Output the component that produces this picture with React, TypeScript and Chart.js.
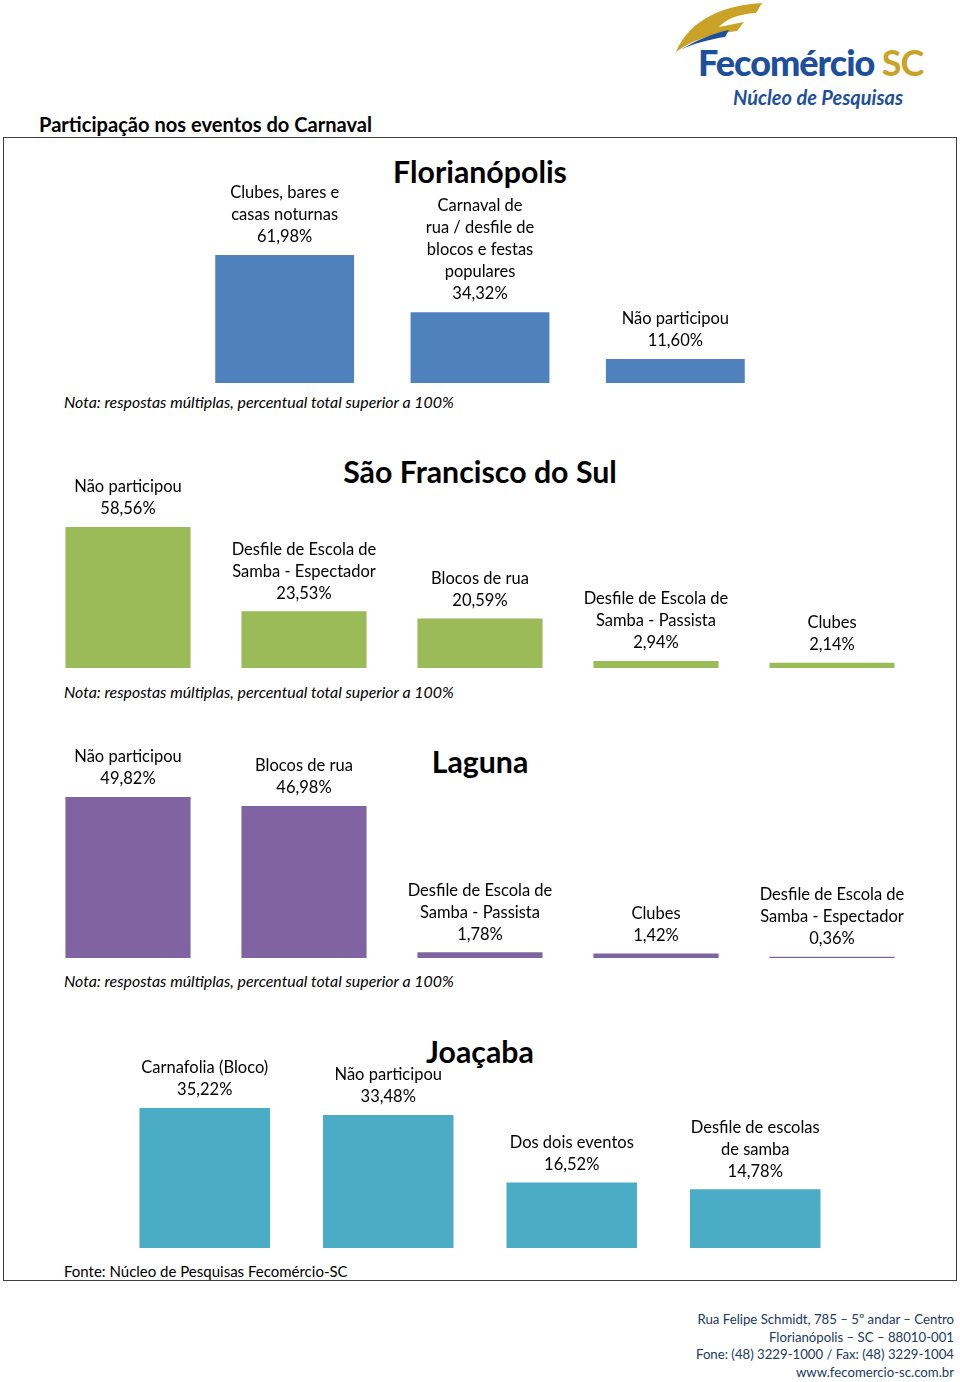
import React, { useEffect, useRef } from "react";
import { Chart, registerables } from "chart.js";

Chart.register(...registerables);

// ---------- data ----------
const florCategories: string[][] = [
  ["Clubes, bares e", "casas noturnas"],
  ["Carnaval de", "rua / desfile de", "blocos e festas", "populares"],
  ["Não participou"],
];
const florValues = [61.98, 34.32, 11.6];

const sfsCategories: string[][] = [
  ["Não participou"],
  ["Desfile de Escola de", "Samba - Espectador"],
  ["Blocos de rua"],
  ["Desfile de Escola de", "Samba - Passista"],
  ["Clubes"],
];
const sfsValues = [58.56, 23.53, 20.59, 2.94, 2.14];

const lagunaCategories: string[][] = [
  ["Não participou"],
  ["Blocos de rua"],
  ["Desfile de Escola de", "Samba - Passista"],
  ["Clubes"],
  ["Desfile de Escola de", "Samba - Espectador"],
];
const lagunaValues = [49.82, 46.98, 1.78, 1.42, 0.36];

const joacabaCategories: string[][] = [
  ["Carnafolia (Bloco)"],
  ["Não participou"],
  ["Dos dois eventos"],
  ["Desfile de escolas", "de samba"],
];
const joacabaValues = [35.22, 33.48, 16.52, 14.78];

const FONT = "Lato, 'Open Sans', sans-serif";

const fmt = (v: number) => v.toFixed(2).replace(".", ",") + "%";

const labelPlugin = {
  id: "barLabels",
  afterDatasetsDraw(chart: any) {
    const ctx = chart.ctx;
    const meta = chart.getDatasetMeta(0);
    const ds = chart.data.datasets[0];
    ctx.save();
    ctx.font = `16.5px ${FONT}`;
    ctx.fillStyle = "#000";
    ctx.textAlign = "center";
    ctx.textBaseline = "middle";
    meta.data.forEach((bar: any, i: number) => {
      const lines = [...(chart.data.labels[i] as string[]), fmt(ds.data[i])];
      const n = lines.length;
      lines.forEach((ln: string, j: number) => {
        const y = bar.y - 18 - (n - 1 - j) * 22;
        ctx.fillText(ln, bar.x, y);
      });
    });
    ctx.restore();
  },
};

type PanelProps = {
  categories: string[][];
  values: number[];
  color: string;
  left: number;
  top: number;
  width: number;
  height: number;
  max: number;
};

function BarPanel(p: PanelProps) {
  const ref = useRef<HTMLCanvasElement>(null);
  useEffect(() => {
    if (!ref.current) return;
    const chart = new Chart(ref.current, {
      type: "bar",
      data: {
        labels: p.categories as any,
        datasets: [
          {
            data: p.values,
            backgroundColor: p.color,
            borderWidth: 0,
            categoryPercentage: 1,
            barPercentage: 0.711,
          },
        ],
      },
      options: {
        animation: false,
        responsive: false,
        maintainAspectRatio: false,
        layout: { padding: 0 },
        plugins: { legend: { display: false }, tooltip: { enabled: false }, title: { display: false } },
        scales: {
          x: { display: false, offset: true },
          y: { display: false, min: 0, max: p.max },
        },
      },
      plugins: [labelPlugin],
    });
    return () => chart.destroy();
  }, []);
  return (
    <canvas
      ref={ref}
      width={p.width}
      height={p.height}
      style={{ position: "absolute", left: p.left, top: p.top, width: p.width, height: p.height }}
    />
  );
}

const abs = (s: React.CSSProperties): React.CSSProperties => ({ position: "absolute", margin: 0, ...s });

function Title({ text, y }: { text: string; y: number }) {
  return (
    <div
      style={abs({
        left: 0,
        width: 960,
        top: y - 18,
        height: 36,
        lineHeight: "36px",
        textAlign: "center",
        fontFamily: FONT,
        fontWeight: 700,
        fontSize: 30.3,
        color: "#000",
      })}
    >
      {text}
    </div>
  );
}

function Note({ text, y, italic = true }: { text: string; y: number; italic?: boolean }) {
  return (
    <div
      style={abs({
        left: 64,
        top: y - 10,
        height: 20,
        lineHeight: "20px",
        fontFamily: FONT,
        fontStyle: italic ? "italic" : "normal",
        fontSize: italic ? 15.9 : 15,
        color: "#000",
        whiteSpace: "nowrap",
      })}
    >
      {text}
    </div>
  );
}

export default function App() {
  return (
    <div style={abs({ left: 0, top: 0, width: 960, height: 1382, background: "#fff", overflow: "hidden" })}>
      {/* Logo */}
      <svg style={abs({ left: 0, top: 0 })} width={960} height={120}>
        <path
          d="M 676 52 C 688 24, 715 6, 762 3 L 756 13 C 737 14, 725 20, 719 27 L 744 22 L 737 31 C 712 34, 692 40, 676 52 Z"
          fill="#c9a227"
        />
        <path d="M 680 50 C 697 40, 714 33, 729 30 L 725 37 C 711 39, 695 43, 680 50 Z" fill="#1d4f9c" />
      </svg>
      <div
        style={abs({
          left: 698,
          top: 40,
          lineHeight: "44px",
          fontFamily: FONT,
          fontWeight: 900,
          fontSize: 36,
          letterSpacing: -1,
          color: "#1d4f9c",
          whiteSpace: "nowrap",
        })}
      >
        Fecomércio <span style={{ color: "#c9a227", fontWeight: 700 }}>SC</span>
      </div>
      <div
        style={abs({
          left: 733,
          top: 86,
          lineHeight: "22px",
          fontFamily: FONT,
          fontWeight: 700,
          fontStyle: "italic",
          fontSize: 20,
          color: "#1d4f9c",
          whiteSpace: "nowrap",
        })}
      >
        Núcleo de Pesquisas
      </div>

      {/* Main title */}
      <div
        style={abs({
          left: 39,
          top: 112,
          lineHeight: "24px",
          fontFamily: FONT,
          fontWeight: 700,
          fontSize: 20.1,
          color: "#000",
          whiteSpace: "nowrap",
        })}
      >
        Participação nos eventos do Carnaval
      </div>

      {/* Box */}
      <div
        style={abs({
          left: 3,
          top: 137,
          width: 952,
          height: 1142,
          border: "1px solid #404040",
        })}
      />

      <Title text="Florianópolis" y={171} />
      <BarPanel categories={florCategories} values={florValues} color="#4f81bd" left={187} top={140} width={586} height={243} max={117.7} />
      <Note text="Nota: respostas múltiplas, percentual total superior a 100%" y={402} />

      <Title text="São Francisco do Sul" y={471} />
      <BarPanel categories={sfsCategories} values={sfsValues} color="#9bbb59" left={40} top={440} width={880} height={228} max={94.7} />
      <Note text="Nota: respostas múltiplas, percentual total superior a 100%" y={692} />

      <Title text="Laguna" y={761} />
      <BarPanel categories={lagunaCategories} values={lagunaValues} color="#8064a2" left={40} top={730} width={880} height={228} max={70.5} />
      <Note text="Nota: respostas múltiplas, percentual total superior a 100%" y={981} />

      <Title text="Joaçaba" y={1051} />
      <BarPanel categories={joacabaCategories} values={joacabaValues} color="#4bacc6" left={113} top={1020} width={734} height={228} max={57.4} />
      <Note text="Fonte: Núcleo de Pesquisas Fecomércio-SC" y={1271} italic={false} />

      {/* Footer */}
      <div
        style={abs({
          right: 6,
          top: 1311,
          textAlign: "right",
          lineHeight: "17.7px",
          fontFamily: FONT,
          fontSize: 13.2,
          color: "#203864",
          whiteSpace: "nowrap",
        })}
      >
        <div>Rua Felipe Schmidt, 785 – 5º andar – Centro</div>
        <div>Florianópolis – SC – 88010-001</div>
        <div>Fone: (48) 3229-1000 / Fax: (48) 3229-1004</div>
        <div>www.fecomercio-sc.com.br</div>
      </div>
    </div>
  );
}
